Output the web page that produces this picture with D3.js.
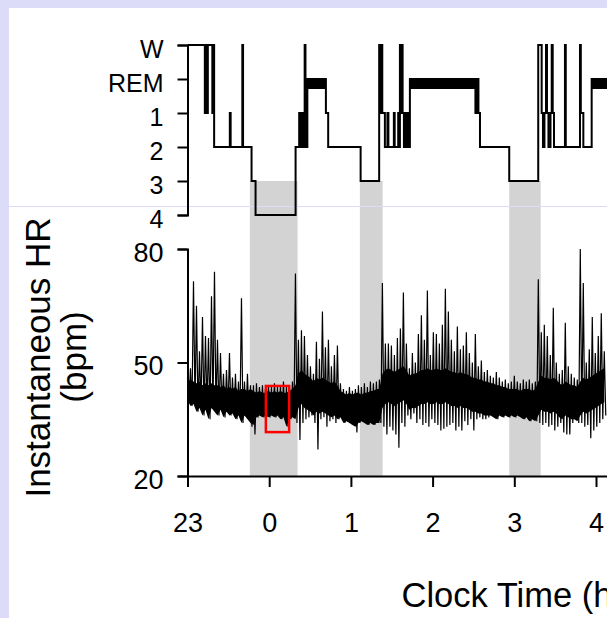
<!DOCTYPE html>
<html>
<head>
<meta charset="utf-8">
<script src="https://cdn.jsdelivr.net/npm/d3@7"></script>
<style>
  body { margin: 0; background: #fff; }
  svg { display: block; font-family: "Liberation Sans", Arial, sans-serif; }
</style>
</head>
<body>
<div id="chart"></div>
<script>
// Hypnogram (top) over instantaneous heart rate (bottom), drawn with D3.
// Times are decimal clock hours counted on past midnight (24.5 = 00:30).

var stageLevels = ["W", "REM", "1", "2", "3", "4"];
var hourTicks = [23, 24, 25, 26, 27, 28];
var hrTicks = [20, 50, 80];

// hypnogram: start time of each stage epoch, and the stage
var hypnoTimes = [23.000, 23.212, 23.224, 23.236, 23.249, 23.304, 23.313, 23.326, 23.518, 23.528,
    23.671, 23.680, 23.784, 23.833, 24.323, 24.367, 24.378, 24.388, 24.400, 24.412,
    24.424, 24.434, 24.444, 24.455, 24.467, 24.694, 24.722, 25.119, 25.346, 25.358,
    25.370, 25.384, 25.416, 25.447, 25.459, 25.526, 25.536, 25.579, 25.590, 25.600,
    25.612, 25.622, 25.633, 25.649, 25.673, 25.683, 25.701, 25.712, 25.722, 26.524,
    26.537, 26.561, 26.580, 26.938, 27.293, 27.335, 27.351, 27.369, 27.388, 27.400,
    27.418, 27.443, 27.458, 27.470, 27.486, 27.620, 27.630, 27.804, 27.814, 27.845,
    27.947, 28.600];
var hypnoStages = ["W", "1", "W", "1", "W", "1", "W", "2", "1", "2",
    "W", "2", "3", "4", "2", "1", "2", "1", "2", "1",
    "2", "W", "1", "2", "REM", "1", "2", "3", "W", "1",
    "W", "1", "2", "1", "2", "1", "2", "1", "2", "W",
    "1", "W", "1", "2", "1", "2", "1", "2", "REM", "1",
    "REM", "1", "2", "3", "W", "1", "2", "1", "W", "1",
    "2", "1", "W", "1", "2", "W", "2", "W", "1", "2",
    "REM", "REM"];

// slow wave sleep periods (grey bands)
var swsStart = [23.763, 25.110, 26.938];
var swsEnd = [24.347, 25.388, 27.323];

// instantaneous HR per sample: highest beat, upper edge of the dense band, lowest beat
var hrStart = 23.0;
var hrStep = 0.0367;
var hrHigh = [46, 48.5, 71.5, 65, 53, 62, 57, 56.5, 67.5, 74,
    56, 52.5, 47, 48, 52.5, 46, 47, 45, 67, 45,
    47, 44, 44, 44.5, 43.5, 44, 43, 44, 43.5, 44.5,
    43.5, 44, 45, 43.5, 44, 45, 73.5, 56, 58.5, 57,
    52, 49, 47, 55.5, 51, 63.5, 54, 56, 49, 52,
    54.5, 44.5, 43, 42.5, 43.5, 42.5, 43, 44, 43.5, 44.5,
    43.5, 45, 44.5, 45, 45.5, 71, 55, 55, 54.5, 52,
    56.5, 59, 68.5, 55, 48.5, 52.5, 50, 57.5, 62.5, 56,
    69, 52, 58, 57.5, 55, 60, 69.5, 63.5, 56, 53,
    59.5, 53.5, 54.5, 58, 52.5, 50, 57.5, 49, 50.5, 47.5,
    48, 46.5, 46, 47.5, 46, 45, 45.5, 44.5, 45, 46.5,
    45, 44.5, 45.5, 45, 45.5, 44.5, 45, 72, 58, 60,
    57, 52, 64.5, 50, 47, 48, 60.5, 49, 47, 46,
    45.5, 80, 71, 50, 53.5, 62, 52.5, 57, 63, 53];
var hrCore = [45, 45.5, 45, 44.5, 45, 44, 44.5, 44, 44.5, 44,
    44, 43.5, 44, 43, 43.5, 43, 43.5, 42.5, 43, 43,
    42.5, 43, 42.5, 42, 42.5, 42, 42, 42.5, 42, 42.5,
    42, 42.5, 42, 42, 42.5, 43, 44, 47, 48, 47,
    46.5, 46, 45, 46, 45.5, 46, 45.5, 45, 44.5, 45,
    44, 42.5, 42, 41.5, 42, 41.5, 42, 42, 41.5, 42,
    42, 42.5, 42.5, 43, 43, 47, 48, 48.5, 48, 47.5,
    48, 48.5, 49, 48, 46.5, 47, 47, 47.5, 48, 48,
    48.5, 48, 48, 48.5, 48, 48, 48.5, 48, 47.5, 47.5,
    47, 47.5, 47, 47, 46.5, 46, 46, 45.5, 45.5, 45,
    45, 44.5, 44.5, 44, 44, 43.5, 43.5, 43, 43, 43,
    43, 42.5, 43, 43, 43, 42.5, 43, 45, 46.5, 46,
    46, 45.5, 46, 45.5, 44.5, 44, 45, 44.5, 44, 44,
    43.5, 45, 46, 45.5, 46, 46.5, 47, 47.5, 48, 48.5];
var hrLow = [40, 38.5, 39, 37, 38, 36, 37.5, 35, 38, 37,
    36, 37.5, 35.5, 37, 36, 36.5, 35, 36, 34, 36,
    35, 33, 31, 35.5, 36, 35.5, 36, 35.5, 36, 35.5,
    36, 35, 35.5, 33, 35, 35.5, 34, 29.5, 34, 35,
    35.5, 36, 34, 27, 35, 35.5, 33, 34.5, 35, 34,
    35, 35.5, 34, 34.5, 34, 33.5, 31.5, 34, 34.5, 34,
    33.5, 34, 33.5, 34, 34, 33, 31, 33, 32, 31,
    27.5, 34, 33, 36, 35, 36.5, 34, 35, 33.5, 34,
    33, 35, 34, 33.5, 32, 32.5, 33, 33.5, 34, 32,
    33, 32, 34.5, 33.5, 35, 32, 35, 35.5, 35, 35,
    35.5, 36, 35.5, 35, 36, 35.5, 36, 35.5, 36, 35.5,
    36, 35.5, 35, 35.5, 34.5, 35, 34.5, 34, 33.5, 34,
    33, 33.5, 32, 33, 34, 31.5, 31, 31, 34, 35,
    34, 34, 33, 33.5, 30, 32, 33, 34, 35, 36];

// highlighted window (red box)
var boxTimes = [23.959, 24.244];
var boxHR = [31.6, 43.8];

var W = 607, H = 618;
var frameColor = "#dcdcf8";
var bandDepth = 9; // deepest the solid HR band goes below its edge, bpm

var svg = d3.select("#chart").append("svg")
    .attr("width", W)
    .attr("height", H);

// slide frame
svg.append("rect").attr("width", W).attr("height", H).attr("fill", frameColor);
svg.append("rect").attr("x", 9).attr("y", 8)
    .attr("width", W - 9).attr("height", H - 8).attr("fill", "#fff");

// scales
var x = d3.scaleLinear().domain([23, 28.6]).range([187.5, 187.5 + 5.6 * 81.7]);
var yStage = d3.scalePoint().domain(stageLevels).range([45, 215]);
var yHR = d3.scaleLinear().domain([20, 80]).range([476, 249]);

// grey SWS bands, from stage 3 down to the HR axis
swsStart.forEach(function (s, i) {
    svg.append("rect")
        .attr("x", x(s))
        .attr("y", yStage("3"))
        .attr("width", x(swsEnd[i]) - x(s))
        .attr("height", yHR(20) - yStage("3"))
        .attr("fill", "#d3d3d3");
});

// faint slide guide line
svg.append("line")
    .attr("x1", 9).attr("x2", W)
    .attr("y1", 206.5).attr("y2", 206.5)
    .attr("stroke", frameColor).attr("stroke-width", 1);

// hypnogram
var hypno = hypnoTimes.map(function (t, i) { return { t: t, s: hypnoStages[i] }; });
var stepLine = d3.line()
    .x(function (d) { return x(d.t); })
    .y(function (d) { return yStage(d.s); })
    .curve(d3.curveStepAfter);
svg.append("path")
    .datum(hypno)
    .attr("fill", "none")
    .attr("stroke", "#000")
    .attr("stroke-width", 2)
    .attr("d", stepLine);

// REM periods drawn as thick bars
for (var i = 0; i < hypno.length - 1; i++) {
    if (hypno[i].s != "REM") continue;
    svg.append("rect")
        .attr("x", x(hypno[i].t))
        .attr("y", yStage("REM") - 1)
        .attr("width", x(hypno[i + 1].t) - x(hypno[i].t))
        .attr("height", 11)
        .attr("fill", "#000");
}

// HR: dense band below the band edge
var hrSamples = hrHigh.map(function (h, i) {
    return { t: hrStart + i * hrStep, hi: h, core: hrCore[i], lo: hrLow[i] };
});
var hrArea = d3.area()
    .x(function (d) { return x(d.t); })
    .y0(function (d) { return yHR(Math.max(d.lo, d.core - bandDepth)); })
    .y1(function (d) { return yHR(d.core); });
svg.append("path")
    .datum(hrSamples)
    .attr("fill", "#000")
    .attr("d", hrArea);

// HR beats: zig-zag between the high and low beat of each sample
var hrPts = [];
hrSamples.forEach(function (d) {
    hrPts.push([d.t, d.hi]);
    hrPts.push([d.t + hrStep / 2, d.lo]);
});
var hrLine = d3.line()
    .x(function (d) { return x(d[0]); })
    .y(function (d) { return yHR(d[1]); });
svg.append("path")
    .datum(hrPts)
    .attr("fill", "none")
    .attr("stroke", "#000")
    .attr("stroke-width", 1.2)
    .attr("d", hrLine);

// red box
svg.append("rect")
    .attr("x", x(boxTimes[0]))
    .attr("y", yHR(boxHR[1]))
    .attr("width", x(boxTimes[1]) - x(boxTimes[0]))
    .attr("height", yHR(boxHR[0]) - yHR(boxHR[1]))
    .attr("fill", "none")
    .attr("stroke", "#ff0000")
    .attr("stroke-width", 2.5);

// axes
function styleAxis(g, size, dy) {
    g.attr("font-family", null).attr("font-size", null);
    g.selectAll("path, line").attr("stroke", "#000").attr("stroke-width", 2);
    g.selectAll("text").attr("fill", "#000").style("font-size", size + "px");
    if (dy) g.selectAll("text").attr("dy", dy);
}

var stageAxis = svg.append("g")
    .attr("transform", "translate(187.5,0)")
    .call(d3.axisLeft(yStage).tickSize(10).tickPadding(14));
styleAxis(stageAxis, 25, "0.5em");

var hrAxis = svg.append("g")
    .attr("transform", "translate(187.5,0)")
    .call(d3.axisLeft(yHR).tickValues(hrTicks).tickSize(10).tickPadding(14));
styleAxis(hrAxis, 27, "0.45em");

var timeAxis = svg.append("g")
    .attr("transform", "translate(0," + yHR(20) + ")")
    .call(d3.axisBottom(x).tickValues(hourTicks).tickSize(11).tickPadding(26)
        .tickFormat(function (h) { return h % 24; }));
styleAxis(timeAxis, 27);

// axis titles
svg.append("text")
    .attr("transform", "translate(49.5,357.5) rotate(-90)")
    .attr("text-anchor", "middle")
    .style("font-size", "35px")
    .text("Instantaneous HR");
svg.append("text")
    .attr("transform", "translate(86,357) rotate(-90)")
    .attr("text-anchor", "middle")
    .style("font-size", "35px")
    .text("(bpm)");
svg.append("text")
    .attr("x", 401.5)
    .attr("y", 606.5)
    .style("font-size", "34.5px")
    .text("Clock Time (h)");
</script>
</body>
</html>
